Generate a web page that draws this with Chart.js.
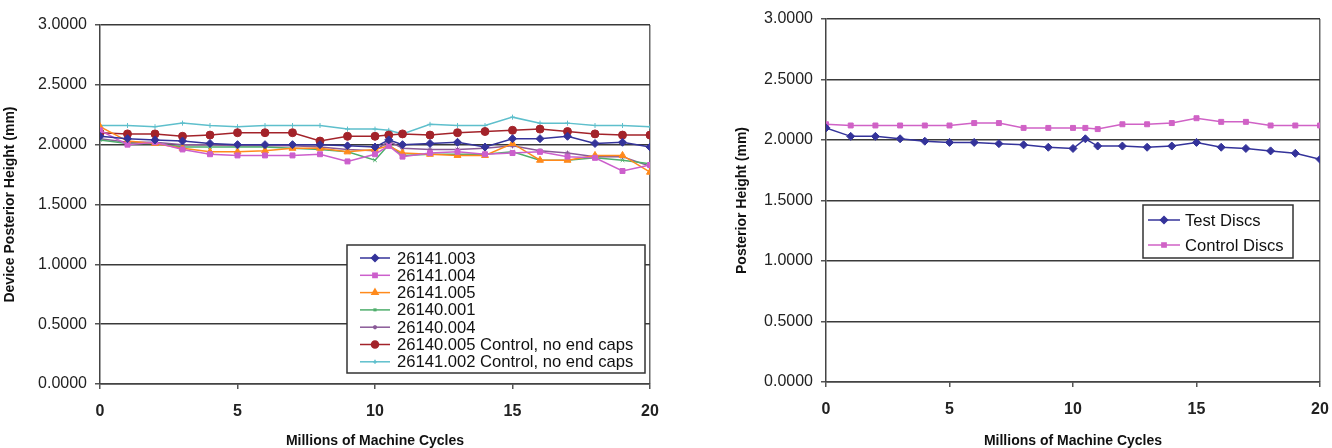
<!DOCTYPE html>
<html>
<head>
<meta charset="utf-8">
<script src="https://cdn.jsdelivr.net/npm/chart.js@4"></script>
<style>
  html, body { margin: 0; padding: 0; background: #fff; }
  .wrap { display: flex; width: 1332px; height: 448px; }
  .box { width: 666px; height: 448px; }
</style>
</head>
<body>
<div class="wrap">
  <div class="box"><canvas id="leftChart" width="666" height="448"></canvas></div>
  <div class="box"><canvas id="rightChart" width="666" height="448"></canvas></div>
</div>
<script>
// x positions (millions of cycles)
const cycles = [0, 1, 2, 3, 4, 5, 6, 7, 8, 9, 10, 10.5, 11, 12, 13, 14, 15, 16, 17, 18, 19, 20];

// left chart - device posterior height (mm)
const dev26141_003 = [2.07, 2.05, 2.04, 2.03, 2.01, 2.00, 2.00, 2.00, 2.00, 1.99, 1.98, 2.04, 2.00, 2.01, 2.02, 1.98, 2.05, 2.05, 2.07, 2.01, 2.02, 1.98];
const dev26141_004 = [2.12, 2.00, 2.02, 1.96, 1.92, 1.91, 1.91, 1.91, 1.92, 1.86, 1.92, 1.99, 1.90, 1.93, 1.94, 1.92, 1.93, 1.94, 1.90, 1.89, 1.78, 1.83];
const dev26141_005 = [2.15, 2.03, 2.01, 1.97, 1.94, 1.94, 1.95, 1.97, 1.97, 1.94, 1.96, 1.99, 1.93, 1.92, 1.91, 1.91, 2.01, 1.87, 1.87, 1.91, 1.91, 1.77];
const dev26140_001 = [2.04, 2.01, 2.01, 1.98, 1.98, 1.98, 1.98, 1.97, 1.96, 1.94, 1.87, 2.00, 1.91, 1.92, 1.92, 1.92, 1.94, 1.87, 1.87, 1.89, 1.87, 1.84];
const dev26140_004 = [2.05, 2.02, 2.02, 2.00, 2.00, 1.99, 1.99, 1.99, 1.98, 1.96, 1.95, 2.03, 1.97, 1.96, 1.96, 1.97, 1.99, 1.95, 1.93, 1.90, 1.90, 1.82];
const dev26140_005c = [2.10, 2.09, 2.09, 2.07, 2.08, 2.10, 2.10, 2.10, 2.03, 2.07, 2.07, 2.08, 2.09, 2.08, 2.10, 2.11, 2.12, 2.13, 2.11, 2.09, 2.08, 2.08];
const dev26141_002c = [2.16, 2.16, 2.15, 2.18, 2.16, 2.15, 2.16, 2.16, 2.16, 2.13, 2.13, 2.12, 2.09, 2.17, 2.16, 2.16, 2.23, 2.18, 2.18, 2.16, 2.16, 2.15];

// right chart - posterior height (mm)
const testDiscs = [2.10, 2.03, 2.03, 2.01, 1.99, 1.98, 1.98, 1.97, 1.96, 1.94, 1.93, 2.01, 1.95, 1.95, 1.94, 1.95, 1.98, 1.94, 1.93, 1.91, 1.89, 1.84];
const controlDiscs = [2.13, 2.12, 2.12, 2.12, 2.12, 2.12, 2.14, 2.14, 2.10, 2.10, 2.10, 2.10, 2.09, 2.13, 2.13, 2.14, 2.18, 2.15, 2.15, 2.12, 2.12, 2.12];

const FONT = 'Arial, "Liberation Sans", sans-serif';

const toXY = (vals) => vals.map((v, i) => ({ x: cycles[i], y: v }));

const series = (label, vals, color, style, radius) => ({
  label: label,
  data: toXY(vals),
  borderColor: color,
  backgroundColor: color,
  borderWidth: 1.5,
  pointStyle: style,
  pointRadius: radius,
  pointBorderWidth: 1,
  pointHoverRadius: radius,
  tension: 0
});

// draws a boxed legend at a fixed spot, like the excel one
const boxLegend = {
  id: 'boxLegend',
  afterDraw(chart, args, opts) {
    const ctx = chart.ctx;
    ctx.save();
    ctx.fillStyle = '#fff';
    ctx.fillRect(opts.x, opts.y, opts.w, opts.h);
    ctx.strokeStyle = '#333';
    ctx.lineWidth = 1.5;
    ctx.strokeRect(opts.x, opts.y, opts.w, opts.h);
    ctx.font = '16.6px ' + FONT;
    ctx.textBaseline = 'middle';
    chart.data.datasets.forEach((ds, i) => {
      const cy = opts.firstRow + i * opts.rowH;
      ctx.strokeStyle = ds.borderColor;
      ctx.lineWidth = 1.5;
      ctx.beginPath();
      ctx.moveTo(opts.lineX1, cy);
      ctx.lineTo(opts.lineX2, cy);
      ctx.stroke();
      ctx.fillStyle = ds.backgroundColor;
      Chart.helpers.drawPoint(ctx, {
        pointStyle: ds.pointStyle,
        radius: Math.max(ds.pointRadius - 0.5, 2),
        borderWidth: 1,
        rotation: 0
      }, (opts.lineX1 + opts.lineX2) / 2, cy);
      ctx.fillStyle = '#111';
      ctx.fillText(ds.label, opts.textX, cy + 1);
    });
    ctx.restore();
  }
};

const makeOptions = (yTitle, yWidth, yTitlePad, padRight, padTop, xHeight, xPad, legend) => ({
  responsive: false,
  animation: false,
  layout: { padding: { left: 0, right: padRight, top: padTop, bottom: 0 } },
  plugins: {
    legend: { display: false },
    tooltip: { enabled: false },
    boxLegend: legend
  },
  scales: {
    x: {
      type: 'linear',
      min: 0,
      max: 20,
      ticks: {
        stepSize: 5,
        padding: xPad,
        color: '#222',
        font: { family: FONT, size: 16, weight: 'bold' }
      },
      grid: {
        drawOnChartArea: true,
        color: (c) => (c.tick && c.tick.value === 20 ? '#666' : 'rgba(0,0,0,0)'),
        lineWidth: 1.5,
        tickColor: '#555',
        tickLength: 5
      },
      border: { color: '#444', width: 1.5 },
      title: {
        display: true,
        text: 'Millions of Machine Cycles',
        color: '#111',
        font: { family: FONT, size: 14, weight: 'bold', lineHeight: 1 },
        padding: { top: 0, bottom: 0 }
      },
      afterFit: (scale) => {
        scale.height = xHeight;
        // let layout.padding alone decide the right edge
        scale.paddingLeft = 0;
        scale.paddingRight = 0;
      }
    },
    y: {
      min: 0,
      max: 3,
      ticks: {
        stepSize: 0.5,
        padding: 8,
        color: '#222',
        font: { family: FONT, size: 16 },
        callback: (v) => Number(v).toFixed(4)
      },
      grid: {
        color: '#3a3a3a',
        lineWidth: 1.5,
        tickColor: '#555',
        tickLength: 5
      },
      border: { color: '#444', width: 1.5 },
      title: {
        display: true,
        text: yTitle,
        color: '#111',
        font: { family: FONT, size: 14, weight: 'bold' },
        padding: { top: yTitlePad, bottom: 0 }
      },
      afterFit: (scale) => { scale.width = yWidth; }
    }
  }
});

new Chart(document.getElementById('leftChart').getContext('2d'), {
  type: 'line',
  data: {
    datasets: [
      series('26141.003', dev26141_003, '#34339a', 'rectRot', 4),
      series('26141.004', dev26141_004, '#cc5fcc', 'rect', 3.5),
      series('26141.005', dev26141_005, '#ff8a1c', 'triangle', 4),
      series('26140.001', dev26140_001, '#4fae6c', 'crossRot', 2.5),
      series('26140.004', dev26140_004, '#8a5a98', 'star', 2.5),
      series('26140.005 Control, no end caps', dev26140_005c, '#a3232a', 'circle', 4),
      series('26141.002 Control, no end caps', dev26141_002c, '#5ebfcc', 'cross', 2.5)
    ]
  },
  options: makeOptions('Device Posterior Height (mm)', 100, 2, 16, 25, 64, 13, {
    x: 347, y: 245, w: 298, h: 128,
    firstRow: 258, rowH: 17.3,
    lineX1: 360, lineX2: 390, textX: 397
  }),
  plugins: [boxLegend]
});

new Chart(document.getElementById('rightChart').getContext('2d'), {
  type: 'line',
  data: {
    datasets: [
      series('Test Discs', testDiscs, '#34339a', 'rectRot', 4),
      series('Control Discs', controlDiscs, '#d062c6', 'rect', 3.5)
    ]
  },
  options: makeOptions('Posterior Height (mm)', 160, 68, 12, 19, 66, 13, {
    x: 477, y: 205, w: 150, h: 53,
    firstRow: 220, rowH: 25,
    lineX1: 482, lineX2: 514, textX: 519
  }),
  plugins: [boxLegend]
});
</script>
</body>
</html>
